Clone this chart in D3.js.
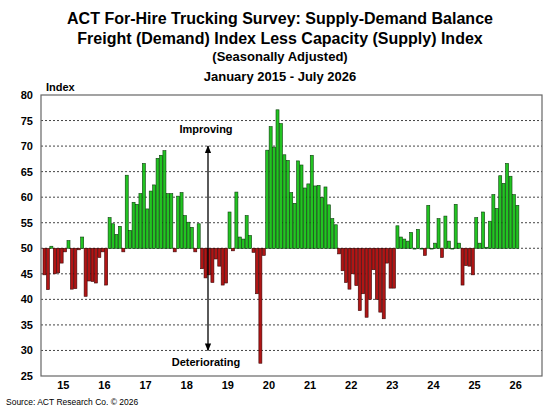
<!DOCTYPE html>
<html>
<head>
<meta charset="utf-8">
<script src="https://cdn.jsdelivr.net/npm/d3@7"></script>
<style>
  body { margin: 0; background: #fff; font-family: Arial, "Liberation Sans", sans-serif; }
</style>
</head>
<body>
<svg id="chart" width="558" height="417"></svg>
<script>
// Monthly supply-demand balance, Jan 2015 - Jul 2026
const values2015 = [44.8, 41.9, 50.4, 45, 45.2, 47.1, 49.3, 51.5, 42, 42.1, 49.7, 52.2];
const values2016 = [40.6, 43.6, 43.5, 43.2, 48.2, 49.3, 42.8, 56, 54.8, 52.7, 54.3, 49.3];
const values2017 = [64.3, 53.5, 59, 58.6, 60.7, 66.6, 57.7, 61.2, 62.4, 67.6, 68.2, 69.1];
const values2018 = [60.7, 60.7, 49.3, 60.2, 60.9, 56.4, 55.1, 54.1, 49.3, 54.8, 46, 44.2];
const values2019 = [44.8, 43.3, 47.9, 46.5, 42.8, 43.2, 57.1, 49.5, 61, 52.2, 51.8, 56.4];
const values2020 = [52.5, 49.2, 41.1, 27.5, 48.6, 69.2, 73.8, 69.8, 77.1, 74.4, 68.3, 67.2];
const values2021 = [60.9, 58.8, 67.1, 66.3, 61.8, 62.6, 68.2, 62.2, 62.3, 59.9, 62, 58.5];
const values2022 = [55.8, 54.6, 48.9, 45.6, 43.3, 42, 45, 42.7, 37.8, 41.1, 36.5, 40];
const values2023 = [45.8, 40, 37.5, 36.2, 47.1, 42.2, 42.2, 54.4, 52.2, 51.8, 51.4, 53.1];
const values2024 = [50, 53.7, 50, 48.6, 58.4, 50, 51, 55.8, 48.2, 56.3, 51.4, 50];
const values2025 = [58.6, 51, 42.8, 46.6, 46.5, 44.8, 56, 51, 57.1, 50.2, 55.3, 60.5];
const values2026 = [57.8, 64.2, 62.7, 66.6, 64.1, 60.5, 58.4];
const yearLabels = ['15', '16', '17', '18', '19', '20', '21', '22', '23', '24', '25', '26'];
const yTicks = [25, 30, 35, 40, 45, 50, 55, 60, 65, 70, 75, 80];

const allValues = [].concat(values2015, values2016, values2017, values2018, values2019,
  values2020, values2021, values2022, values2023, values2024, values2025, values2026);

const svg = d3.select('#chart');
const plotLeft = 41, plotRight = 542, plotTop = 95, plotBottom = 376;
const BASE = 50;

// Titles
const titles = [
  { text: 'ACT For-Hire Trucking Survey: Supply-Demand Balance', y: 24, size: 16 },
  { text: 'Freight (Demand) Index Less Capacity (Supply) Index', y: 44, size: 16 },
  { text: '(Seasonally Adjusted)', y: 61, size: 13 },
  { text: 'January 2015 - July 2026', y: 81, size: 13 },
];
svg.selectAll('.title').data(titles).enter().append('text')
  .attr('x', 280).attr('y', (d) => d.y).attr('text-anchor', 'middle')
  .style('font-weight', 'bold').style('font-size', (d) => `${d.size}px`).text((d) => d.text);

const yscale = d3.scaleLinear().domain([25, 80]).range([plotBottom, plotTop]);
const months = d3.range(144);
const xscale = d3.scaleBand().domain(months).range([plotLeft + 2, plotRight - 6]).paddingInner(0.12);

// Gridlines
svg.append('g').selectAll('line').data(yTicks.filter((t) => t > 25 && t < 80)).enter()
  .append('line')
  .attr('x1', plotLeft).attr('x2', plotRight)
  .attr('y1', (d) => yscale(d)).attr('y2', (d) => yscale(d))
  .attr('stroke', '#444').attr('stroke-width', 1).attr('stroke-dasharray', '2,2');

// Y axis labels
svg.append('g').selectAll('text').data(yTicks).enter().append('text')
  .attr('x', 33).attr('y', (d) => yscale(d) + 4).attr('text-anchor', 'end')
  .style('font-size', '11px').style('font-weight', 'bold').text((d) => d);
svg.append('text').attr('x', 46).attr('y', 91).style('font-size', '11px')
  .style('font-weight', 'bold').text('Index');

// Bars
svg.append('g').selectAll('rect').data(allValues).enter().append('rect')
  .attr('x', (d, i) => xscale(i))
  .attr('width', xscale.bandwidth())
  .attr('y', (d) => yscale(Math.max(d, BASE)))
  .attr('height', (d) => Math.max(0.8, Math.abs(yscale(d) - yscale(BASE))))
  .attr('fill', (d) => (d >= BASE ? '#22c422' : '#b01515'))
  .attr('stroke', (d) => (d >= BASE ? '#0b3d0b' : '#3a0505'))
  .attr('stroke-width', 0.6);

// Year labels
svg.append('g').selectAll('text').data(yearLabels).enter().append('text')
  .attr('x', (d, i) => (xscale(i * 12) + xscale(i * 12 + 11) + xscale.bandwidth()) / 2)
  .attr('y', 389).attr('text-anchor', 'middle')
  .style('font-size', '11px').style('font-weight', 'bold').text((d) => d);

// Frame
svg.append('rect').attr('x', plotLeft).attr('y', plotTop).attr('width', plotRight - plotLeft)
  .attr('height', plotBottom - plotTop).attr('fill', 'none').attr('stroke', '#666').attr('stroke-width', 1.2);

// Improving / Deteriorating arrow
const defs = svg.append('defs');
defs.append('marker').attr('id', 'arr').attr('viewBox', '0 0 10 10')
  .attr('refX', 9).attr('refY', 5).attr('markerWidth', 6).attr('markerHeight', 6)
  .attr('orient', 'auto-start-reverse')
  .append('path').attr('d', 'M0,1 L10,5 L0,9 z').attr('fill', '#000');
const arrowX = 208;
svg.append('line').attr('x1', arrowX).attr('x2', arrowX)
  .attr('y1', yscale(70)).attr('y2', yscale(30))
  .attr('stroke', '#000').attr('stroke-width', 1.3)
  .attr('marker-start', 'url(#arr)').attr('marker-end', 'url(#arr)');
svg.append('text').attr('x', arrowX - 2).attr('y', 133).attr('text-anchor', 'middle')
  .style('font-size', '11px').style('font-weight', 'bold').text('Improving');
svg.append('text').attr('x', arrowX - 2).attr('y', 366).attr('text-anchor', 'middle')
  .style('font-size', '11px').style('font-weight', 'bold').text('Deteriorating');

svg.append('text').attr('x', 6).attr('y', 405).style('font-size', '8.5px')
  .text('Source: ACT Research Co. © 2026');
</script>
</body>
</html>
